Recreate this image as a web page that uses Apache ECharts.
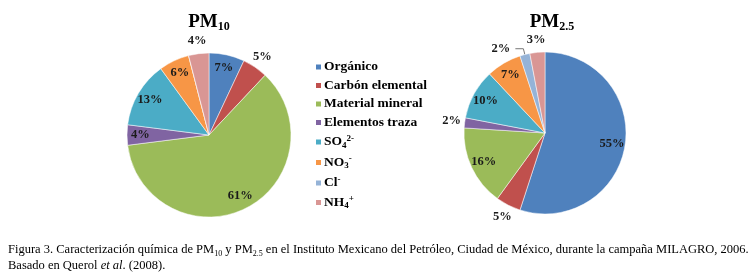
<!DOCTYPE html>
<html>
<head>
  <meta charset="utf-8" />
  <title>PM10 y PM2.5</title>
  <script src="https://cdn.jsdelivr.net/npm/echarts@6"></script>
  <style>
    html, body {
      margin: 0;
      padding: 0;
      background: #fff;
    }

    #main {
      width: 753px;
      height: 276px;
    }
  </style>
</head>
<body>
  <div id="main"></div>

  <script type="text/javascript">
    const categories = ['Orgánico', 'Carbón elemental', 'Material mineral', 'Elementos traza', 'SO4', 'NO3', 'Cl', 'NH4'];
    const pm10 = [7, 5, 61, 4, 13, 6, 0, 4];
    const pm25 = [55, 5, 16, 2, 10, 7, 2, 3];
    const colors = ['#4F81BD', '#C0504D', '#9BBB59', '#8064A2', '#4BACC6', '#F79646', '#95B3D7', '#D99694'];

    // how legend names look with sub/superscripts
    const legendText = {
      'SO4': 'SO{sub|4}{sup|2-}',
      'NO3': 'NO{sub|3}{sup|-}',
      'Cl': 'Cl{sup|-}',
      'NH4': 'NH{sub|4}{sup|+}'
    };

    const serif = '"Liberation Serif", "Times New Roman", serif';

    // where each slice has its label: 'in' near the rim, 'out' just outside, 'line' with a leader
    const place10 = ['in', 'out', 'in', 'in', 'in', 'in', 'none', 'out'];
    const place25 = ['in', 'out', 'in', 'out', 'in', 'in', 'line', 'out'];

    const labelFont = {
      fontFamily: serif,
      fontWeight: 'bold',
      fontSize: 12.5,
      color: '#1a1a1a'
    };

    function visibleData(values, place, which) {
      return categories.map((name, i) => ({
        name: name,
        value: values[i],
        label: { show: values[i] > 0 && place[i] === which }
      }));
    }

    // transparent ring that only carries the labels
    function labelRing(values, place, which, center, radius) {
      return {
        type: 'pie',
        center: center,
        radius: radius,
        startAngle: 90,
        clockwise: true,
        silent: true,
        avoidLabelOverlap: false,
        itemStyle: { color: 'rgba(0,0,0,0)' },
        label: Object.assign({ position: 'inside', formatter: '{c}%' }, labelFont),
        labelLine: { show: false },
        emphasis: { disabled: true },
        data: visibleData(values, place, which)
      };
    }

    function mainPie(name, values, place, center, r) {
      return {
        name: name,
        type: 'pie',
        center: center,
        radius: r,
        startAngle: 90,
        clockwise: true,
        avoidLabelOverlap: false,
        label: Object.assign({ position: 'outside', formatter: '{c}%' }, labelFont),
        labelLine: { show: true, length: 6, length2: 8, lineStyle: { color: '#777', width: 1 } },
        itemStyle: { borderColor: '#fff', borderWidth: 0.5 },
        data: visibleData(values, place, 'line')
      };
    }

    const chartDom = document.getElementById('main');
    const myChart = echarts.init(chartDom, null, { renderer: 'canvas' });

    const c10 = [209, 135], r10 = 82;
    const c25 = [545, 133], r25 = 81;

    const option = {
      color: colors,
      animation: false,
      title: [
        {
          text: 'PM{s|10}',
          left: 204,
          top: 6,
          textAlign: 'center',
          textStyle: {
            fontFamily: serif, fontWeight: 'bold', fontSize: 19, color: '#000',
            rich: { s: { fontFamily: serif, fontWeight: 'bold', fontSize: 12, padding: [10, 0, 0, 0], color: '#000' } }
          }
        },
        {
          text: 'PM{s|2.5}',
          left: 547,
          top: 6,
          textAlign: 'center',
          textStyle: {
            fontFamily: serif, fontWeight: 'bold', fontSize: 19, color: '#000',
            rich: { s: { fontFamily: serif, fontWeight: 'bold', fontSize: 12, padding: [10, 0, 0, 0], color: '#000' } }
          }
        },
        {
          text: 'Figura 3. Caracterización química de PM{sb|10} y PM{sb|2.5} en el Instituto Mexicano del Petróleo, Ciudad de México, durante la campaña MILAGRO, 2006.\nBasado en Querol {it|et al}. (2008).',
          left: 3,
          top: 237,
          textStyle: {
            fontFamily: serif, fontWeight: 'normal', fontSize: 12.5, color: '#000', lineHeight: 16,
            rich: {
              sb: { fontFamily: serif, fontSize: 8, padding: [7, 0, 0, 0], color: '#000' },
              it: { fontFamily: serif, fontSize: 12.5, fontStyle: 'italic', color: '#000' }
            }
          }
        }
      ],
      legend: {
        orient: 'vertical',
        left: 309,
        top: 55,
        itemWidth: 7,
        itemHeight: 7,
        itemGap: 4.5,
        data: categories,
        icon: 'rect',
        formatter: function (name) {
          return legendText[name] || name;
        },
        textStyle: {
          fontFamily: serif,
          fontWeight: 'bold',
          fontSize: 13.5,
          color: '#000',
          padding: [0, 0, 0, -3],
          rich: {
            sub: { fontFamily: serif, fontWeight: 'bold', fontSize: 9, padding: [7, 0, 0, 0], color: '#000' },
            sup: { fontFamily: serif, fontWeight: 'bold', fontSize: 9, padding: [0, 0, 7, 0], color: '#000' }
          }
        }
      },
      series: [
        mainPie('PM10', pm10, place10, c10, r10),
        mainPie('PM2.5', pm25, place25, c25, r25),
        labelRing(pm10, place10, 'in', c10, [r10 * 0.6, r10]),
        labelRing(pm10, place10, 'out', c10, [r10, r10 + 20]),
        labelRing(pm25, place25, 'in', c25, [r25 * 0.6, r25]),
        labelRing(pm25, place25, 'out', c25, [r25, r25 + 20])
      ]
    };

    myChart.setOption(option);
  </script>
</body>
</html>
